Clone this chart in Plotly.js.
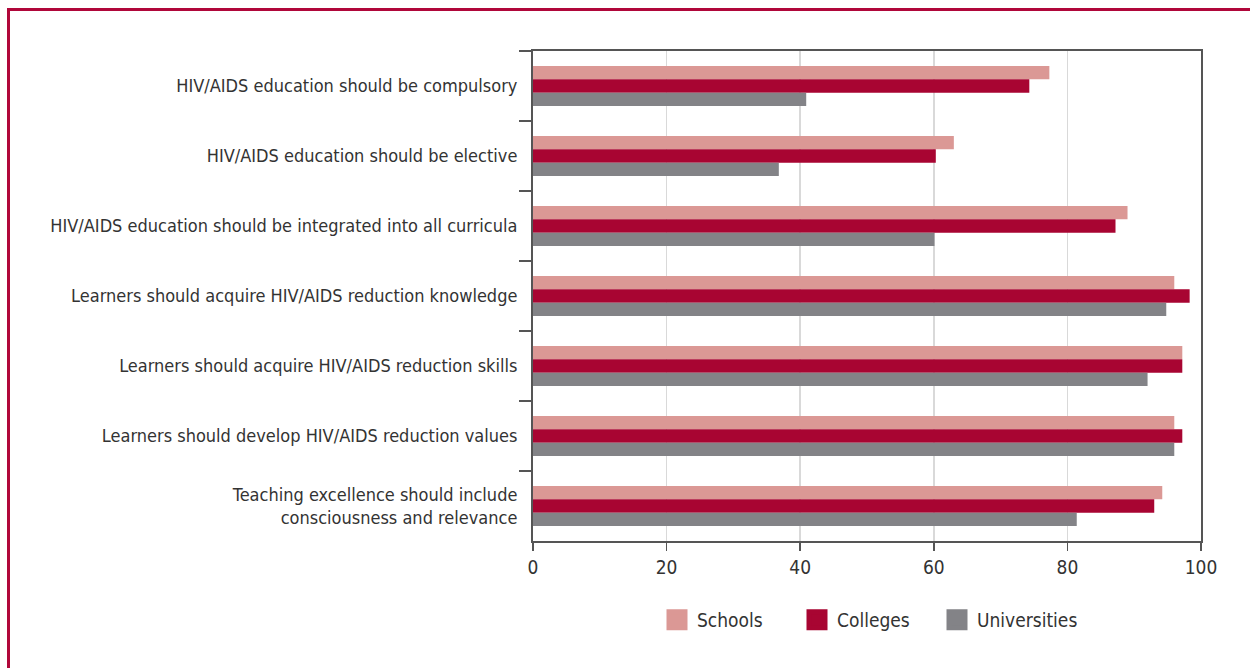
<!DOCTYPE html>
<html>
<head>
<meta charset="utf-8">
<script src="https://cdn.plot.ly/plotly-3.0.1.min.js"></script>
<style>
  html, body { margin: 0; padding: 0; background: #ffffff; }
  #wrap { position: relative; width: 1250px; height: 668px; overflow: hidden; }
  #chart { position: absolute; left: 0; top: 0; width: 1250px; height: 668px; }
  #frame { position: absolute; left: 7px; top: 8px; width: 1300px; height: 700px;
           border-top: 3px solid #b0073a; border-left: 3px solid #b0073a; pointer-events: none; }
</style>
</head>
<body>
<div id="wrap">
  <div id="chart"></div>
  <div id="frame"></div>
</div>
<script>
const categories = [
  "HIV/AIDS education should be compulsory",
  "HIV/AIDS education should be elective",
  "HIV/AIDS education should be integrated into all curricula",
  "Learners should acquire HIV/AIDS reduction knowledge",
  "Learners should acquire HIV/AIDS reduction skills",
  "Learners should develop HIV/AIDS reduction values",
  "Teaching excellence should include<br>consciousness and relevance"
];
const schools      = [77.3, 63.0, 89.0, 96.0, 97.2, 96.0, 94.2];
const colleges     = [74.3, 60.3, 87.2, 98.3, 97.2, 97.2, 93.0];
const universities = [40.9, 36.8, 60.1, 94.8, 92.0, 96.0, 81.4];
const seriesNames  = ["Schools", "Colleges", "Universities"];
const xTicks       = [0, 20, 40, 60, 80, 100];

const colors = ["#db9895", "#a80532", "#838387"];
const FONT = "'Liberation Sans Narrow', 'Arial Narrow', 'DejaVu Sans Condensed', sans-serif";

const seriesValues = [schools, colleges, universities];
const traces = [];
seriesValues.forEach((vals, i) => {
  traces.push({
    type: "bar", orientation: "h", name: seriesNames[i],
    x: vals, y: categories,
    marker: { color: colors[i], line: { width: 0 } },
    showlegend: false, hoverinfo: "x+name"
  });
});
// legend entries with larger square swatches
seriesNames.forEach((n, i) => {
  traces.push({
    type: "scatter", mode: "markers", name: n,
    x: [null], y: [null],
    marker: { symbol: "square", size: 16, color: colors[i], line: { color: colors[i], width: 5 } },
    showlegend: true, hoverinfo: "skip"
  });
});

const layout = {
  width: 1250, height: 668,
  margin: { l: 533, r: 49, t: 51, b: 127, pad: 0 },
  paper_bgcolor: "rgba(0,0,0,0)",
  plot_bgcolor: "#ffffff",
  barmode: "group",
  bargap: 0.43,
  bargroupgap: 0,
  font: { family: FONT, color: "#333333", size: 18 },
  xaxis: {
    range: [0, 100], tickvals: xTicks, ticktext: xTicks.map(String),
    showgrid: true, gridcolor: "#d9d9d9", gridwidth: 1.5,
    zeroline: false,
    showline: true, linecolor: "#555555", linewidth: 2, mirror: true,
    ticks: "outside", ticklen: 8, tickwidth: 1.5, tickcolor: "#555555",
    tickfont: { family: FONT, size: 19, color: "#333333" }
  },
  yaxis: {
    type: "category", autorange: "reversed",
    showgrid: false, zeroline: false,
    showline: true, linecolor: "#555555", linewidth: 2, mirror: true,
    ticks: "outside", tickson: "boundaries", ticklen: 12, tickwidth: 1.5, tickcolor: "#555555",
    ticklabelstandoff: 10,
    tickfont: { family: FONT, size: 18, color: "#333333" }
  },
  legend: {
    orientation: "h", x: 0.5, xanchor: "center", y: -0.161, yanchor: "middle",
    font: { family: FONT, size: 19, color: "#333333" },
    bgcolor: "rgba(0,0,0,0)", traceorder: "normal",
    entrywidth: 95, entrywidthmode: "pixels"
  },
  showlegend: true
};

Plotly.newPlot("chart", traces, layout, { displayModeBar: false, staticPlot: true });
</script>
</body>
</html>
